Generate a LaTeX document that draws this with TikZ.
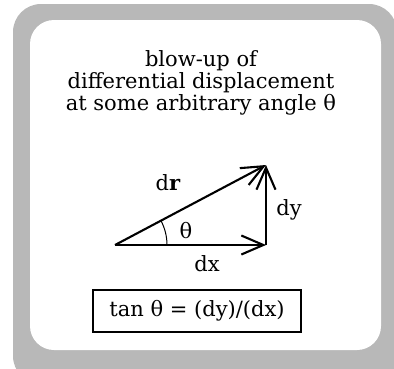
\documentclass[tikz,border=0pt]{standalone}
\usepackage{fontspec}
\setmainfont{DejaVu Serif}
\usepackage{tikz}
\usetikzlibrary{arrows.meta, calc}
\definecolor{framegray}{HTML}{b8b8b8}

\begin{document}
\begin{tikzpicture}[
    x=1pt, y=-1pt,
    frame/.style={fill=framegray, rounded corners=28pt},
    panel/.style={fill=white, rounded corners=24pt},
    vec/.style={-{Straight Barb[length=22pt, width=19pt]}, line width=2.1pt},
    lbl/.style={font=\fontsize{21}{22}\selectfont, inner sep=0pt},
    formula/.style={draw, line width=1.3pt, minimum width=208pt, minimum height=42pt, inner sep=0pt, font=\fontsize{21}{22}\selectfont},
  ]
  \useasboundingbox (0,0) rectangle (394,368);
  % Frame
  \path[frame] (13,4) rectangle (397,384);
  \path[panel] (30,20) rectangle (381,350);
  % Title
  \node[lbl, align=center, anchor=north] (title) at (201,50) {blow-up of\\differential displacement\\at some arbitrary angle θ};
  % Triangle corners
  \coordinate (o) at (115,245);
  \coordinate (p) at (266,245);
  \coordinate (q) at (266,165);
  % Vectors
  \draw[vec] (o) -- (q);
  \draw[vec] (o) -- (p);
  \draw[vec] (p) -- (q);
  \draw[line width=1pt] ($(o)+(52,0)$) arc[start angle=0, end angle=-27.9, radius=52];
  % Labels
  \node[lbl] (dr) at (168,183) {d\textbf{r}};
  \node[lbl] (th) at (186,231) {θ};
  \node[lbl] (dy) at (289,210) {dy};
  \node[lbl] (dx) at (207,264) {dx};
  % Formula
  \node[formula] (tan) at (197,311) {tan θ = (dy)/(dx)};
\end{tikzpicture}
\end{document}
